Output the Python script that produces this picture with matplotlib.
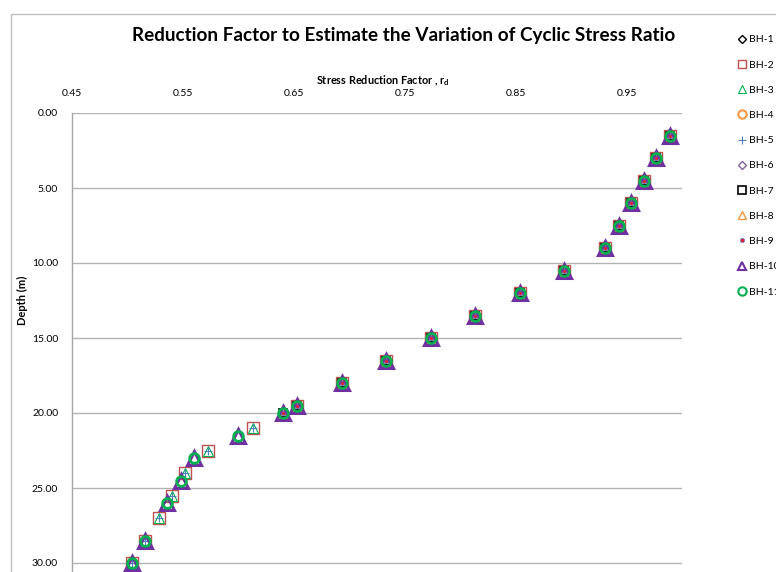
import matplotlib
matplotlib.use("Agg")
import matplotlib.pyplot as plt
from matplotlib.lines import Line2D
from matplotlib.patches import Rectangle

plt.rcParams['font.family'] = ['Lato', 'DejaVu Sans']
plt.rcParams['mathtext.fontset'] = 'custom'
plt.rcParams['mathtext.rm'] = 'Lato'
plt.rcParams['mathtext.bf'] = 'Lato:bold'

# depths (m) and stress reduction factor
upper_depth = [1.5, 3.0, 4.5, 6.0, 7.5, 9.0, 10.5, 12.0, 13.5, 15.0, 16.5, 18.0, 19.5]
upper_rd = [0.989, 0.977, 0.966, 0.954, 0.943, 0.931, 0.894, 0.854, 0.813, 0.774, 0.733, 0.693, 0.653]

# boreholes ending at 20 m
short_depth = upper_depth + [20.0]
short_rd = upper_rd + [0.640]

# boreholes with 1.5 m spacing down to 30 m
deep_a_depth = upper_depth + [21.0, 22.5, 24.0, 25.5, 27.0, 28.5, 30.0]
deep_a_rd = upper_rd + [0.613, 0.573, 0.552, 0.540, 0.528, 0.516, 0.504]

# boreholes with a sample at 20 m then down to 30 m
deep_b_depth = upper_depth + [20.0, 21.5, 23.0, 24.5, 26.0, 28.5, 30.0]
deep_b_rd = upper_rd + [0.640, 0.600, 0.560, 0.548, 0.536, 0.516, 0.504]

labels = ['BH-1', 'BH-2', 'BH-3', 'BH-4', 'BH-5', 'BH-6', 'BH-7', 'BH-8', 'BH-9', 'BH-10', 'BH-11']
series_depth = [short_depth, deep_a_depth, deep_a_depth, short_depth, deep_a_depth, short_depth,
                short_depth, short_depth, short_depth, deep_b_depth, deep_b_depth]
series_rd = [short_rd, deep_a_rd, deep_a_rd, short_rd, deep_a_rd, short_rd,
             short_rd, short_rd, short_rd, deep_b_rd, deep_b_rd]

x_ticks = [0.45, 0.55, 0.65, 0.75, 0.85, 0.95]
y_ticks = [0, 5, 10, 15, 20, 25, 30, 35]

# marker styles: (marker, size, face, edge, edge width, legend size)
styles = [
    ('D', 5, 'none', '#000000', 1.0, 4.5),
    ('s', 8, 'none', '#C0504D', 1.0, 6),
    ('^', 7, 'none', '#00B050', 0.8, 6),
    ('o', 6, 'none', '#F79646', 1.5, 6),
    ('+', 6, 'none', '#4F81BD', 0.8, 6),
    ('D', 5, 'none', '#8064A2', 1.0, 4.5),
    ('s', 6, 'none', '#000000', 1.2, 6),
    ('^', 7, 'none', '#F79646', 1.0, 6),
    ('o', 3, '#E0203A', '#4F81BD', 0.5, 3),
    ('^', 10.5, 'none', '#7030A0', 2.2, 6),
    ('o', 7, 'none', '#00B050', 2.0, 6),
]

fig = plt.figure(figsize=(7.76, 5.72), dpi=100)
W, H = 776, 572

# chart border (partly cut off by the crop)
fig.patches.append(Rectangle((11 / W, -0.5), 2.0, 1 - 14 / H + 0.5, transform=fig.transFigure,
                             fill=False, edgecolor='#BFBFBF', linewidth=1.0))

ax = fig.add_axes([72 / W, 1 - 638 / H, 610 / W, 525 / H])

for d, r, st in zip(series_depth, series_rd, styles):
    m, ms, fc, ec, mew, _ = st
    ax.plot(r, d, linestyle='none', marker=m, markersize=ms, markerfacecolor=fc,
            markeredgecolor=ec, markeredgewidth=mew, clip_on=False)

ax.set_xlim(0.45, 1.0)
ax.set_ylim(35, 0)
ax.xaxis.tick_top()
ax.set_xticks(x_ticks)
ax.set_xticklabels([f'{v:.2f}' for v in x_ticks])
ax.set_yticks(y_ticks)
ax.set_yticklabels([f'{v:.2f}' for v in y_ticks])
ax.tick_params(axis='both', length=0, labelsize=7.5, colors='#000000')
ax.tick_params(axis='x', pad=11)
ax.tick_params(axis='y', pad=10)
ax.grid(axis='y', color='#B3B3B3', linewidth=1.0)
ax.set_axisbelow(True)
for s in ['right', 'bottom', 'top']:
    ax.spines[s].set_visible(False)
ax.spines['left'].set_color('#A6A6A6')
ax.spines['left'].set_linewidth(1.0)

fig.text(404 / W, 1 - 36 / H, 'Reduction Factor to Estimate the Variation of Cyclic Stress Ratio',
         ha='center', va='center', fontsize=13.6, fontweight='bold')
fig.text(383 / W, 1 - 81 / H, r'Stress Reduction Factor , r$_\mathbf{d}$',
         ha='center', va='center', fontsize=7.8, fontweight='bold')
fig.text(22 / W, 1 - 300 / H, 'Depth (m)', ha='center', va='center', rotation=90,
         fontsize=8, fontweight='bold')

handles = []
for st in styles:
    m, ms, fc, ec, mew, lms = st
    handles.append(Line2D([], [], linestyle='none', marker=m, markersize=lms, markerfacecolor=fc,
                          markeredgecolor=ec, markeredgewidth=min(mew, 1.5)))
fig.legend(handles, labels, loc='upper left', bbox_to_anchor=(738 / W, 1 - 35 / H),
           frameon=False, fontsize=7.5, handlelength=0.8, handletextpad=0.25,
           labelspacing=1.53, borderpad=0, borderaxespad=0)

fig.savefig('out.png', dpi=100)
